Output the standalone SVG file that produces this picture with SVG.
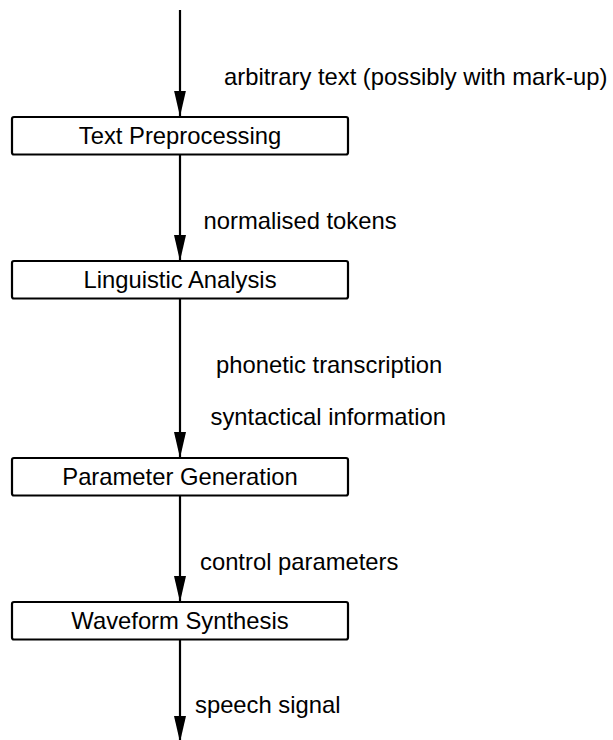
<svg xmlns="http://www.w3.org/2000/svg" width="613" height="740" viewBox="0 0 613 740">
  <style>
    .box { fill: #ffffff; stroke: #000000; stroke-width: 2.2; }
    .lbl { font-family: "Liberation Sans", Arial, sans-serif; font-size: 23.8px; fill: #000000; }
    .mid { text-anchor: middle; }
    .wire { stroke: #000000; stroke-width: 2.2; fill: none; marker-end: url(#head); }
  </style>
  <defs>
    <marker id="head" markerUnits="userSpaceOnUse" markerWidth="26" markerHeight="12" refX="26" refY="6" orient="auto">
      <path d="M0,0 L26,6 L0,12 z" fill="#000000"/>
    </marker>
  </defs>
  <rect width="613" height="740" fill="#ffffff"/>

  <!-- flow connectors with their labels -->
  <g id="connectors">
    <line class="wire" x1="180" y1="10" x2="180" y2="116.5"/>
    <text class="lbl" x="224" y="85">arbitrary text (possibly with mark-up)</text>
    <line class="wire" x1="180" y1="155" x2="180" y2="261"/>
    <text class="lbl" x="203.5" y="228.5">normalised tokens</text>
    <line class="wire" x1="180" y1="299" x2="180" y2="458"/>
    <text class="lbl" x="216" y="373">phonetic transcription</text>
    <text class="lbl" x="210.5" y="425">syntactical information</text>
    <line class="wire" x1="180" y1="496" x2="180" y2="602"/>
    <text class="lbl" x="200" y="570">control parameters</text>
    <line class="wire" x1="180" y1="640" x2="180" y2="742"/>
    <text class="lbl" x="195" y="713">speech signal</text>
  </g>

  <!-- processing stages -->
  <g id="text-preprocessing">
    <rect class="box" x="12" y="117" width="336" height="37.5" rx="2"/>
    <text class="lbl mid" x="180" y="144">Text Preprocessing</text>
  </g>
  <g id="linguistic-analysis">
    <rect class="box" x="12" y="261" width="336" height="37.5" rx="2"/>
    <text class="lbl mid" x="180" y="288">Linguistic Analysis</text>
  </g>
  <g id="parameter-generation">
    <rect class="box" x="12" y="458" width="336" height="37.5" rx="2"/>
    <text class="lbl mid" x="180" y="485">Parameter Generation</text>
  </g>
  <g id="waveform-synthesis">
    <rect class="box" x="12" y="602" width="336" height="37.5" rx="2"/>
    <text class="lbl mid" x="180" y="629">Waveform Synthesis</text>
  </g>
</svg>
